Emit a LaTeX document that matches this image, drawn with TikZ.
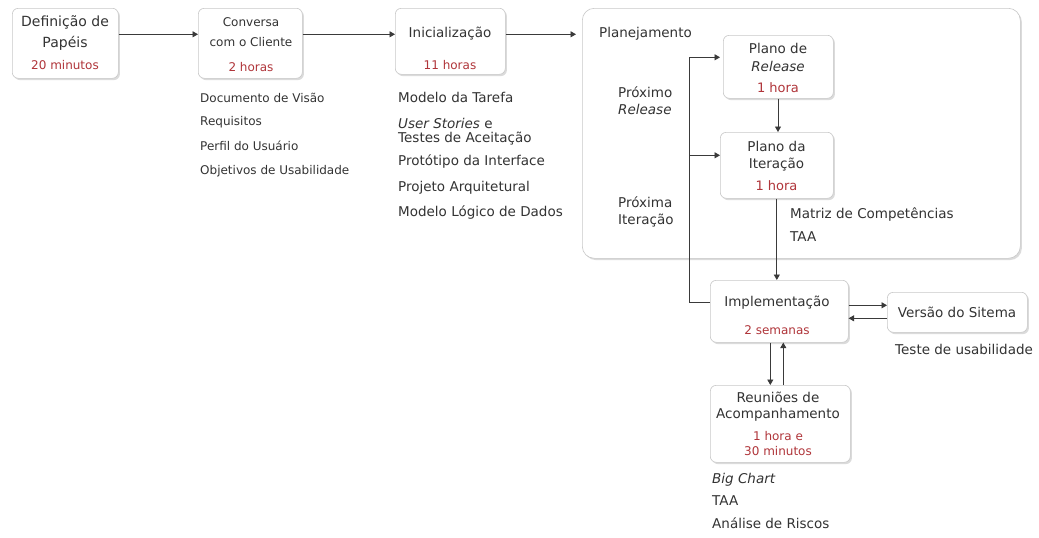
\documentclass[tikz,border=0pt]{standalone}
\usepackage{fontspec}
\setmainfont{DejaVu Sans}
\usetikzlibrary{arrows.meta,shadows}
\definecolor{txt}{HTML}{333333}
\definecolor{tred}{HTML}{B0353A}
\definecolor{bord}{HTML}{C8C8C8}
\definecolor{ln}{HTML}{3A3A3A}
\tikzset{
  box/.style={draw=bord, line width=0.6pt, fill=white, rounded corners=6pt,
    drop shadow={shadow xshift=1.6pt, shadow yshift=-1.8pt, opacity=0.28, fill=gray},
    inner sep=0pt, anchor=north west},
  tx/.style={anchor=base, text=txt, inner sep=0pt, font=\fontsize{13.5}{16}\selectfont},
  txs/.style={tx, font=\fontsize{12}{14}\selectfont},
  tr/.style={anchor=base, text=tred, inner sep=0pt, font=\fontsize{12}{14}\selectfont},
  lab/.style={anchor=base west, text=txt, font=\fontsize{13.5}{16}\selectfont, inner sep=0pt},
  labs/.style={lab, font=\fontsize{12}{14}\selectfont},
  arr/.style={draw=ln, line width=0.9pt, -{Triangle[length=5.5pt,width=6pt]}},
}
\begin{document}
\begin{tikzpicture}[x=1pt,y=-1pt]
\useasboundingbox[fill=white] (0,0) rectangle (1039,538);
% big planning box
\node[box, rounded corners=12pt, minimum width=438pt, minimum height=250pt] (plan) at (582,8) {};
\node[lab] (planlab) at (599,37) {Planejamento};
% boxes
\node[box, minimum width=106pt, minimum height=70pt] (def) at (12,8) {};
\node[box, minimum width=104pt, minimum height=70pt] (conv) at (198,8) {};
\node[box, minimum width=110pt, minimum height=66pt] (ini) at (395,8) {};
\node[box, minimum width=110pt, minimum height=63pt] (rel) at (723,35) {};
\node[box, minimum width=113pt, minimum height=66pt] (it) at (720,132) {};
\node[box, minimum width=138pt, minimum height=62pt] (impl) at (710,280) {};
\node[box, minimum width=140pt, minimum height=40pt] (ver) at (887,292) {};
\node[box, minimum width=140pt, minimum height=77pt] (reu) at (710,385) {};
% box texts
\node[tx, font=\fontsize{14}{16}\selectfont] (defA) at (65,26.5) {Definição de};
\node[tx, font=\fontsize{14}{16}\selectfont] (defB) at (65,47.5) {Papéis};
\node[tr] (defC) at (65,69) {20 minutos};
\node[txs] (convA) at (251,27) {Conversa};
\node[txs] (convB) at (251,46) {com o Cliente};
\node[tr] (convC) at (251,71) {2 horas};
\node[tx] (iniA) at (450,37.5) {Inicialização};
\node[tr] (iniB) at (450,69) {11 horas};
\node[tx] (relA) at (778,53.5) {Plano de};
\node[tx] (relB) at (778,71.5) {\textit{Release}};
\node[tr, font=\fontsize{13}{14}\selectfont] (relC) at (778,92) {1 hora};
\node[tx] (itA) at (776.5,151.5) {Plano da};
\node[tx] (itB) at (776.5,168.5) {Iteração};
\node[tr, font=\fontsize{13}{14}\selectfont] (itC) at (776.5,190) {1 hora};
\node[tx] (implA) at (777,306.5) {Implementação};
\node[tr] (implB) at (777,334) {2 semanas};
\node[tx] (verA) at (957,317) {Versão do Sitema};
\node[tx] (reuA) at (778,402.5) {Reuniões de};
\node[tx] (reuB) at (778,418.5) {Acompanhamento};
\node[tr] (reuC) at (778,440) {1 hora e};
\node[tr] (reuD) at (778,455) {30 minutos};
% lists
\node[labs] (c1) at (200,102) {Documento de Visão};
\node[labs] (c2) at (200,125) {Requisitos};
\node[labs] (c3) at (200,150) {Perfil do Usuário};
\node[labs] (c4) at (200,174) {Objetivos de Usabilidade};
\node[lab] (i1) at (398,102) {Modelo da Tarefa};
\node[lab] (i2) at (398,128) {\textit{User Stories} e};
\node[lab] (i3) at (398,142.5) {Testes de Aceitação};
\node[lab] (i4) at (398,165.5) {Protótipo da Interface};
\node[lab] (i5) at (398,191) {Projeto Arquitetural};
\node[lab] (i6) at (398,216.5) {Modelo Lógico de Dados};
\node[lab] (p1) at (618,97) {Próximo};
\node[lab] (p2) at (618,114) {\textit{Release}};
\node[lab] (p3) at (618,207) {Próxima};
\node[lab] (p4) at (618,224) {Iteração};
\node[lab] (m1) at (790,218) {Matriz de Competências};
\node[lab] (m2) at (790,241) {TAA};
\node[lab] (t1) at (895,354) {Teste de usabilidade};
\node[lab] (b1) at (712,483) {\textit{Big Chart}};
\node[lab] (b2) at (712,505) {TAA};
\node[lab] (b3) at (712,528) {Análise de Riscos};
% connectors
\coordinate (lx) at (689,0);
\draw[arr] ([yshift=9pt]def.east) -- ([yshift=9pt]def.east -| conv.west);
\draw[arr] ([yshift=9pt]conv.east) -- ([yshift=9pt]conv.east -| ini.west);
\draw[arr, shorten >=6pt] ([yshift=7pt]ini.east) -- ([yshift=7pt]ini.east -| plan.west);
\draw[arr, shorten >=3pt] ([yshift=9pt]impl.west) -| ([yshift=9.5pt]lx |- rel.west) -- ([yshift=9.5pt]rel.west);
\draw[arr] ([yshift=10pt]lx |- it.west) -- ([yshift=10pt]it.west);
\draw[arr] (relC.south |- rel.south) -- (relC.south |- it.north);
\draw[arr] (it.south) -- (it.south |- impl.north);
\draw[arr] ([yshift=6pt]impl.east) -- ([yshift=6pt]impl.east -| ver.west);
\draw[arr] ([yshift=-6pt]ver.west) -- ([yshift=-6pt]ver.west -| impl.east);
\draw[arr] ([xshift=-9pt]impl.south) -- ([xshift=-9pt]impl.south |- reu.north);
\draw[arr] ([xshift=4pt]impl.south |- reu.north) -- ([xshift=4pt]impl.south);
\end{tikzpicture}
\end{document}
